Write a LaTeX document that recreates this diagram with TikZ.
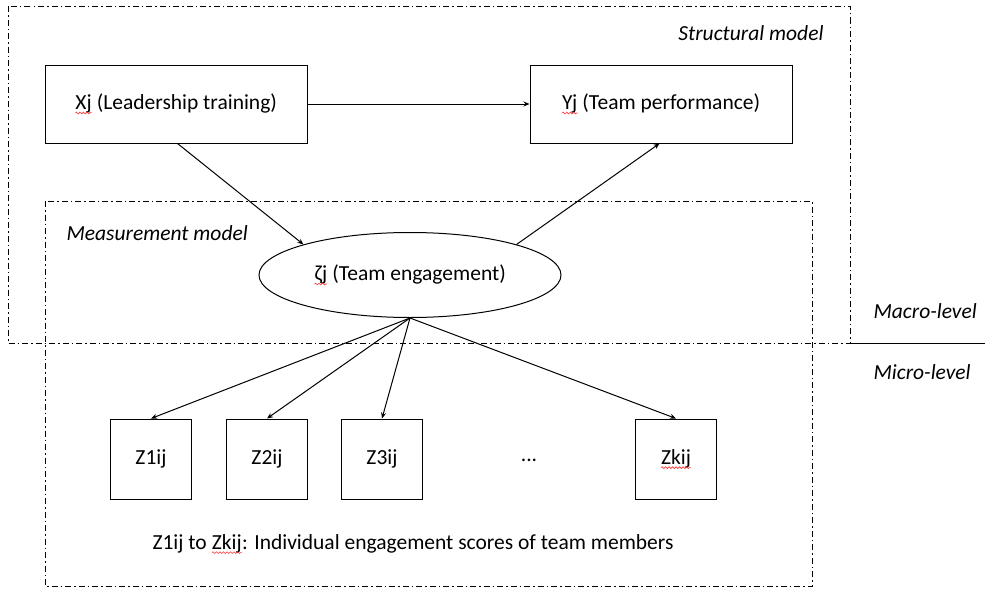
\documentclass[tikz,border=0pt]{standalone}
\usepackage{fontspec}
\setmainfont{Carlito}
\usepackage{tikz}
\usetikzlibrary{arrows.meta,shapes.geometric,decorations.pathmorphing}

\newcommand{\wavy}[1]{\tikz[baseline=(w.base)]{\node[rectangle, inner sep=0pt, outer sep=0pt, minimum width=0pt, minimum height=0pt, draw=none] (w) {#1};
    \draw[red!80, line width=0.6pt, decorate, decoration={snake,amplitude=0.9pt,segment length=3.5pt}]
    ([yshift=-3.5pt]w.base west) -- ([yshift=-3.5pt]w.base east);}}

\tikzset{
    region/.style={line width=0.7pt, dash pattern=on 6pt off 3pt on 1.5pt off 3pt},
    varbox/.style={draw, line width=1pt, rectangle, minimum width=262pt, minimum height=78pt},
    itembox/.style={draw, line width=1pt, rectangle, minimum width=81pt, minimum height=80pt},
    link/.style={line width=1pt, -{Stealth[length=6pt,width=5pt]}},
    tag/.style={font=\fontsize{21.5}{25}\selectfont\itshape}
}

\begin{document}
\begin{tikzpicture}[x=1pt, y=-1pt, font=\fontsize{21.5}{25}\selectfont]
    \useasboundingbox (0,0) rectangle (985,589);
    % Regions
    \draw[region] (8,6) rectangle (850,343);
    \draw[region] (45,201) rectangle (812,586);
    \draw[line width=1pt] (850,343) -- (985,343);
    \node[tag, anchor=east] (Struct) at (827,33) {Structural model};
    \node[tag, anchor=west] (Measure) at (63,233) {Measurement model};
    \node[tag, anchor=west] (Macro) at (870,311) {Macro-level};
    \node[tag, anchor=west] (Micro) at (870,372) {Micro-level};
    % Structural Layer
    \node[varbox] (X) at (176,104) {\wavy{Xj} (Leadership training)};
    \node[varbox] (Y) at (661,104) {\wavy{Yj} (Team performance)};
    % Latent Layer
    \node[ellipse, draw, line width=1pt, minimum width=302pt, minimum height=85pt] (Zeta) at (410,275) {\wavy{ζj} (Team engagement)};
    % Item Layer
    \foreach \name/\i/\x in {Z1ij/1/151,Z2ij/2/267,Z3ij/3/382} {
        \node[itembox] (Item-\i) at (\x,459) {\name};
    }
    \node (Dots) at (529,460) {...};
    \node[itembox] (Item-4) at (676,459) {\wavy{Zkij}};
    \node (Note) at (413,544) {Z1ij to \wavy{Zkij}: Individual engagement scores of team members};
    % Arrows
    \draw[link] (X) -- (Y);
    \draw[link] ([xshift=133pt]X.south west) -- (Zeta.164);
    \draw[link] (Zeta.16) -- ([xshift=130pt]Y.south west);
    \foreach \i in {1,...,4} {
        \draw[link] (Zeta.south) -- (Item-\i.north);
    }
\end{tikzpicture}
\end{document}
